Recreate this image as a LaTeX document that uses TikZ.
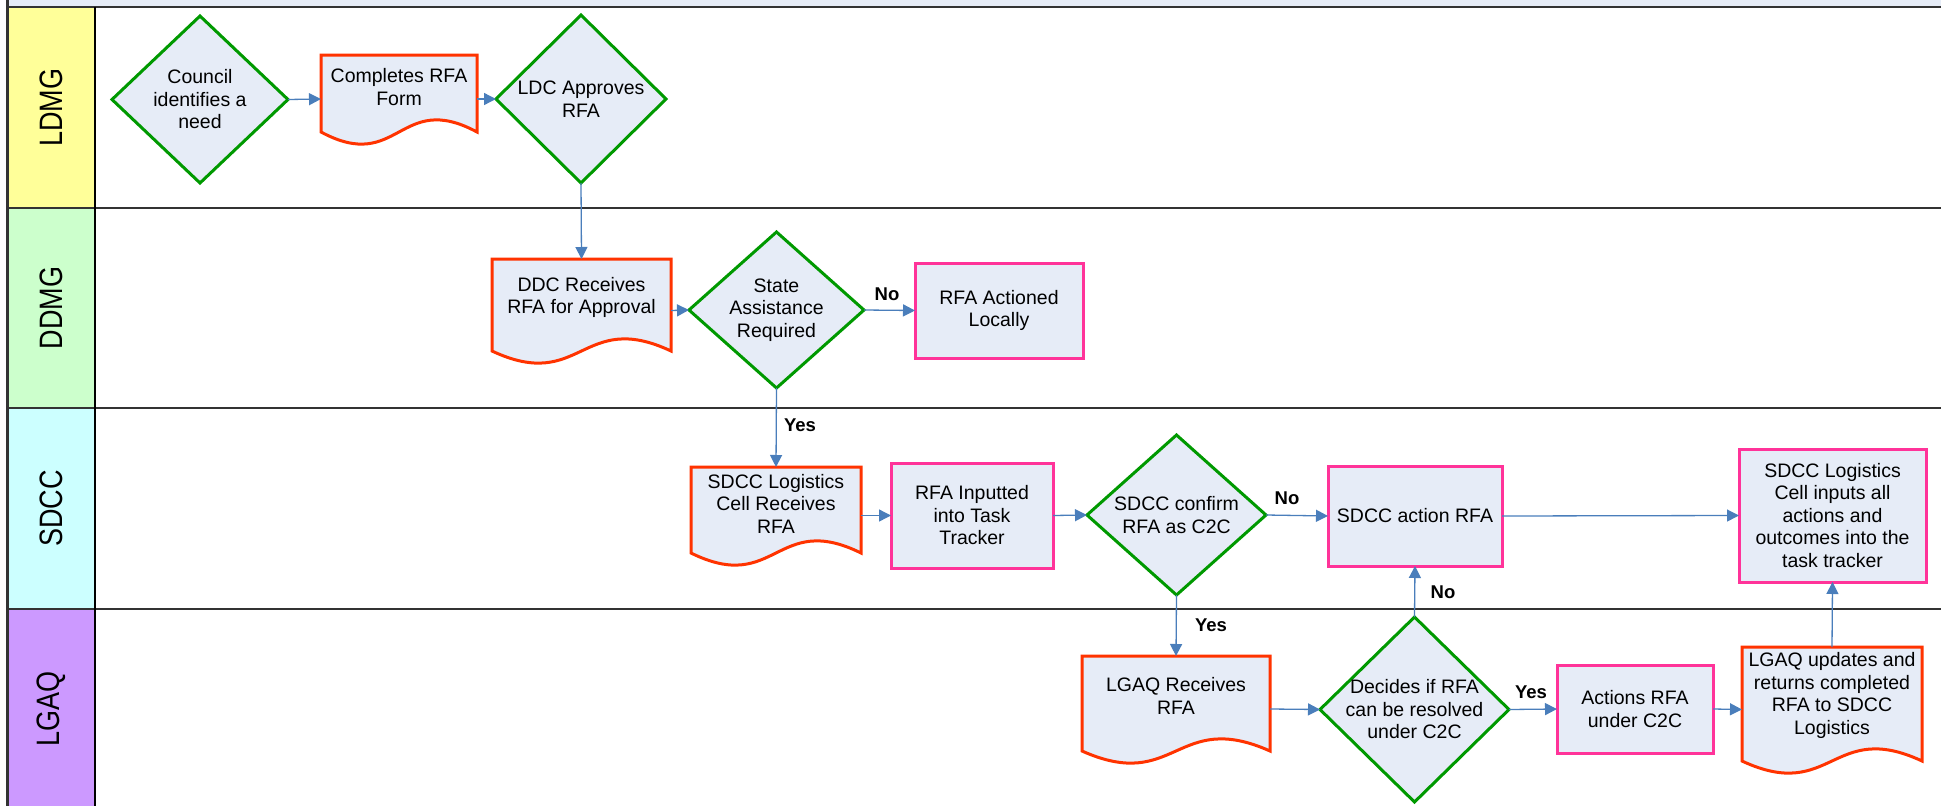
\documentclass[tikz,border=0pt]{standalone}
\usepackage{fontspec}
\setmainfont{Liberation Sans}
\usetikzlibrary{arrows.meta,shapes.geometric}

\definecolor{shapefill}{RGB}{230,236,247}
\definecolor{decisiongreen}{RGB}{0,153,0}
\definecolor{docred}{RGB}{255,51,0}
\definecolor{taskpink}{RGB}{255,51,153}
\definecolor{flowblue}{RGB}{74,126,187}
\definecolor{lanegrey}{RGB}{51,51,51}
\definecolor{ldmgfill}{RGB}{255,255,153}
\definecolor{ddmgfill}{RGB}{204,255,204}
\definecolor{sdccfill}{RGB}{204,255,255}
\definecolor{lgaqfill}{RGB}{204,153,255}

\tikzset{
  txt/.style={align=center, inner sep=0pt, font=\fontsize{19.5}{22.5}\selectfont},
  decision/.style={diamond, draw=decisiongreen, line width=3pt, fill=shapefill,
    inner sep=0pt, outer sep=0pt},
  task/.style={rectangle, draw=taskpink, line width=3pt, fill=shapefill,
    inner sep=0pt, outer sep=0pt, align=center, font=\fontsize{19.5}{22.5}\selectfont},
  docframe/.style={rectangle, draw=none, inner sep=0pt, outer sep=0pt},
  docline/.style={draw=docred, line width=3pt, fill=shapefill, line join=miter},
  conn/.style={draw=flowblue, line width=1.3pt,
    -{Triangle[length=12pt,width=12pt]}, shorten >=0pt},
  branch/.style={font=\bfseries\fontsize{18.5}{20}\selectfont, inner sep=0pt},
  lanelabel/.style={rotate=90, yscale=1.2, inner sep=0pt, font=\fontsize{27}{30}\selectfont},
  laneline/.style={draw=lanegrey, line width=2.2pt},
}

% document shape: flat top, straight sides, wavy bottom edge
\newcommand\docshape[5]{%
  \node[docframe, minimum width=#4pt, minimum height=#5pt] (#1) at (#2,#3) {};
  \path[docline] (#1.north west) -- (#1.north east) -- ([yshift=11pt]#1.south east)
    .. controls ([yshift=53pt]#1.south) and ([yshift=-31pt]#1.south) ..
    ([yshift=11pt]#1.south west) -- cycle;
}

\begin{document}
\begin{tikzpicture}[x=1pt,y=-1pt]
\useasboundingbox (0,0) rectangle (1941,806);

% ---- swimlane frame ----
\fill[shapefill] (8,0) rectangle (1941,7);
\fill[ldmgfill] (8,7) rectangle (95,208);
\fill[ddmgfill] (8,208) rectangle (95,408);
\fill[sdccfill] (8,408) rectangle (95,609);
\fill[lgaqfill] (8,609) rectangle (95,806);
\draw[laneline] (8,7) -- (1941,7);
\draw[laneline] (8,208) -- (1941,208);
\draw[laneline] (8,408) -- (1941,408);
\draw[laneline] (8,609) -- (1941,609);
\draw[draw=lanegrey, line width=2.2pt] (7.5,0) -- (7.5,806);
\draw[black, line width=1.3pt] (95,7) -- (95,806);

\node[lanelabel] (ldmg) at (51,107.5) {LDMG};
\node[lanelabel] (ddmg) at (51,308) {DDMG};
\node[lanelabel] (sdcc) at (51,508.5) {SDCC};
\node[lanelabel] (lgaq) at (51,709) {LGAQ};

% ---- LDMG lane ----
\node[decision, minimum width=176pt, minimum height=167pt] (need) at (200,99.5) {};
\node[txt] (needt) at (need.center) {Council\\identifies a\\need};
\docshape{form}{399}{99}{156}{88}
\node[txt] (formt) at ([yshift=12pt]form.center) {Completes RFA\\Form};
\node[decision, minimum width=170pt, minimum height=168pt] (ldc) at (581,99) {};
\node[txt] (ldct) at (ldc.center) {LDC Approves\\RFA};

% ---- DDMG lane ----
\docshape{ddc}{581.5}{310.5}{179}{103}
\node[txt] (ddct) at ([yshift=13pt]ddc.center) {DDC Receives\\RFA for Approval};
\node[decision, minimum width=175pt, minimum height=156pt] (state) at (776.5,310) {};
\node[txt] (statet) at (state.center) {State\\Assistance\\Required};
\node[task, minimum width=168pt, minimum height=95pt] (local) at (999,310.5) {RFA Actioned\\Locally};

% ---- SDCC lane ----
\docshape{cell}{776}{515.5}{170}{97}
\node[txt] (cellt) at ([yshift=12pt]cell.center) {SDCC Logistics\\Cell Receives\\RFA};
\node[task, minimum width=162pt, minimum height=105pt] (tracker) at (972,515.5) {RFA Inputted\\into Task\\Tracker};
\node[decision, minimum width=179pt, minimum height=160pt] (confirm) at (1176.5,515) {};
\node[txt] (confirmt) at (confirm.center) {SDCC confirm\\RFA as C2C};
\node[task, minimum width=174pt, minimum height=100pt] (action) at (1415,516) {SDCC action RFA};
\node[task, minimum width=187pt, minimum height=133pt] (inputs) at (1832.5,515.5)
  {SDCC Logistics\\Cell inputs all\\actions and\\outcomes into the\\task tracker};

% ---- LGAQ lane ----
\docshape{lgaqin}{1176}{709}{188}{106}
\node[txt] (lgaqint) at ([yshift=13pt]lgaqin.center) {LGAQ Receives\\RFA};
\node[decision, minimum width=189pt, minimum height=185pt] (decides) at (1414.5,709.5) {};
\node[txt] (decidest) at (decides.center) {Decides if RFA\\can be resolved\\under C2C};
\node[task, minimum width=156pt, minimum height=88pt] (c2c) at (1635,709) {Actions RFA\\under C2C};
\docshape{updates}{1832}{709.5}{180}{125}
\node[txt] (updatest) at ([yshift=14pt]updates.center) {LGAQ updates and\\returns completed\\RFA to SDCC\\Logistics};

% ---- connectors ----
\draw[conn] (need.east) -- (form.west);
\draw[conn] (form.east) -- (ldc.west);
\draw[conn] (ldc.south) -- (ddc.north);
\draw[conn] (ddc.east) -- (state.west);
\draw[conn] (state.east) -- (local.west);
\draw[conn] (state.south) -- (cell.north);
\draw[conn] (cell.east) -- (tracker.west);
\draw[conn] (tracker.east) -- (confirm.west);
\draw[conn] (confirm.east) -- (action.west);
\draw[conn] (action.east) -- (inputs.west);
\draw[conn] (confirm.south) -- (lgaqin.north);
\draw[conn] (lgaqin.east) -- (decides.west);
\draw[conn] (decides.north) -- (action.south);
\draw[conn] (decides.east) -- (c2c.west);
\draw[conn] (c2c.east) -- (updates.west);
\draw[conn] (updates.north) -- (inputs.south);

% ---- branch labels ----
\node[branch] (no1) at (887,294) {No};
\node[branch] (yes1) at (800,425) {Yes};
\node[branch] (no2) at (1287,498) {No};
\node[branch] (yes2) at (1211,625) {Yes};
\node[branch] (no3) at (1443,592) {No};
\node[branch] (yes3) at (1531,692) {Yes};
\end{tikzpicture}
\end{document}
